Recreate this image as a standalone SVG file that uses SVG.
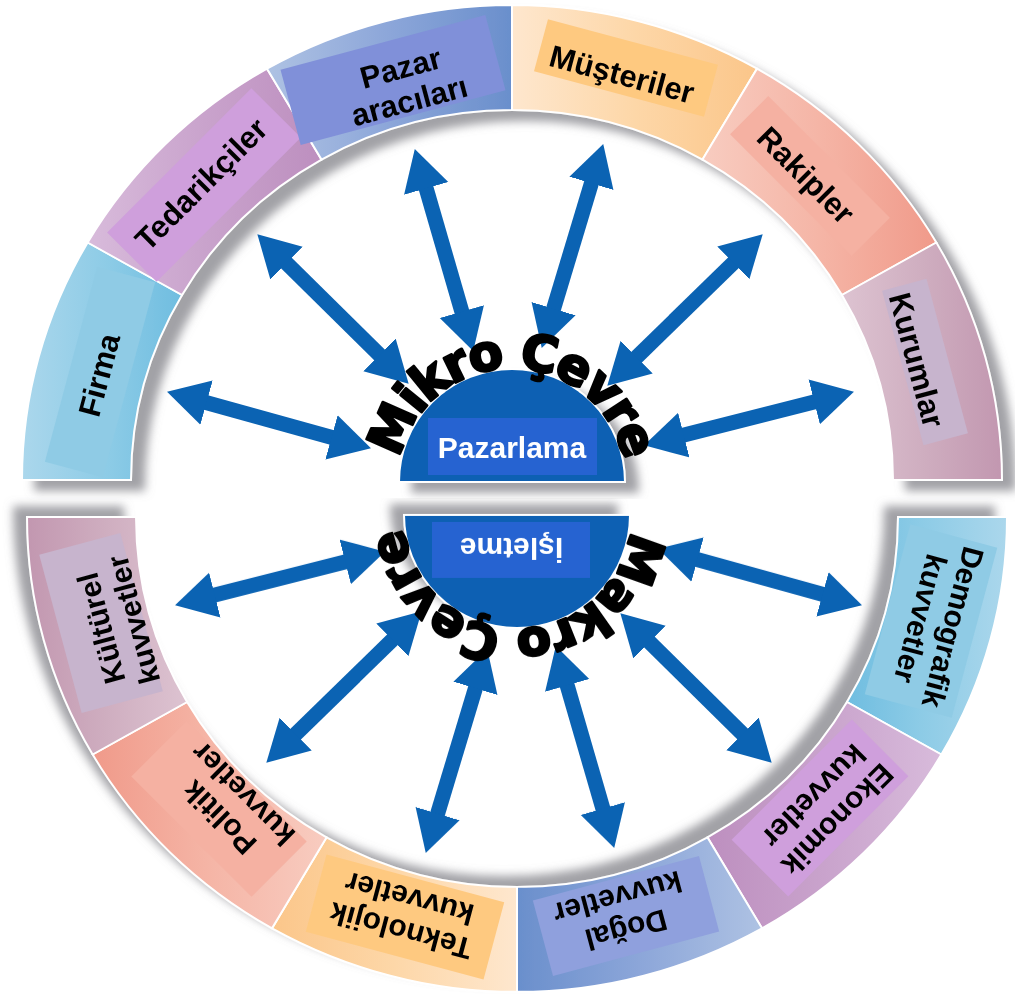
<svg xmlns="http://www.w3.org/2000/svg" xmlns:xlink="http://www.w3.org/1999/xlink" width="1015" height="994" viewBox="0 0 1015 994">
  <defs>
    <style>
      .seg { stroke: #ffffff; stroke-width: 2; }
      .lbl { font-family: "Liberation Sans", Arial, sans-serif; font-weight: bold; font-size: 31px; fill: #000000; text-anchor: middle; }
      .lbl2 { font-family: "Liberation Sans", Arial, sans-serif; font-weight: bold; font-size: 30px; fill: #000000; text-anchor: middle; }
      .core-txt { font-family: "Liberation Sans", Arial, sans-serif; font-weight: bold; font-size: 30px; fill: #ffffff; text-anchor: middle; }
      .arc-txt { font-family: "DejaVu Sans", "Liberation Sans", sans-serif; font-weight: bold; font-size: 50px; letter-spacing: -2.5px; fill: #000000; stroke: #000000; stroke-width: 2.6; stroke-linejoin: round; }
      .arw { stroke: #0b63b3; stroke-width: 15; fill: none; marker-start: url(#head); marker-end: url(#head); }
      .core { fill: #0a60b3; stroke: #ffffff; stroke-width: 2; }
      .core-box { fill: #2564d1; }
    </style>

    <!-- soft drop shadow used under the ring and the core disc -->
    <filter id="drop" x="-10%" y="-10%" width="125%" height="125%">
      <feGaussianBlur in="SourceAlpha" stdDeviation="5"/>
      <feOffset dx="13" dy="10" result="blur"/>
      <feFlood flood-color="#8a8a90" flood-opacity="0.8"/>
      <feComposite in2="blur" operator="in"/>
      <feMerge>
        <feMergeNode/>
        <feMergeNode in="SourceGraphic"/>
      </feMerge>
    </filter>

    <marker id="head" markerUnits="userSpaceOnUse" markerWidth="42" markerHeight="48" viewBox="0 0 42 48" refX="10" refY="24" orient="auto-start-reverse">
      <path d="M0,1 L41,24 L0,47 Z" fill="#0b63b3"/>
    </marker>

    <!-- segment fills -->
    <linearGradient id="g-blue" x1="0" y1="0" x2="1" y2="0">
      <stop offset="0" stop-color="#abd7ec"/>
      <stop offset="0.55" stop-color="#8ccbe6"/>
      <stop offset="1" stop-color="#6fbde0"/>
    </linearGradient>
    <linearGradient id="g-lilac" x1="0" y1="0" x2="1" y2="0">
      <stop offset="0" stop-color="#d8bbdb"/>
      <stop offset="0.5" stop-color="#c9a3cc"/>
      <stop offset="1" stop-color="#bd8fbf"/>
    </linearGradient>
    <linearGradient id="g-indigo" x1="0" y1="0" x2="1" y2="0">
      <stop offset="0" stop-color="#aec2e3"/>
      <stop offset="0.5" stop-color="#8ca6d9"/>
      <stop offset="1" stop-color="#6a8fcc"/>
    </linearGradient>
    <linearGradient id="g-peach" x1="0" y1="0" x2="1" y2="0">
      <stop offset="0" stop-color="#fee7ce"/>
      <stop offset="0.5" stop-color="#fdd7a8"/>
      <stop offset="1" stop-color="#fbc68a"/>
    </linearGradient>
    <linearGradient id="g-salmon" x1="0" y1="0" x2="1" y2="0">
      <stop offset="0" stop-color="#f8ccc0"/>
      <stop offset="0.5" stop-color="#f5b5a6"/>
      <stop offset="1" stop-color="#f09a8a"/>
    </linearGradient>
    <linearGradient id="g-mauve" x1="0" y1="0" x2="1" y2="0">
      <stop offset="0" stop-color="#ddc3d1"/>
      <stop offset="0.5" stop-color="#cfaec0"/>
      <stop offset="1" stop-color="#c297b0"/>
    </linearGradient>

    <!-- baseline arc for the curved titles -->
    <path id="title-arc" d="M398,482 A114,114 0 0 1 626,482"/>
  </defs>

  <rect x="0" y="0" width="1015" height="994" fill="#ffffff"/>

  <!-- ===== upper half: micro environment ===== -->
  <g id="micro">
    <g id="micro-ring" filter="url(#drop)">
      <g id="firma">
        <path class="seg" fill="url(#g-blue)" d="M22,480 A490,475 0 0 1 87.65,242.5 L182.05,295 A381,370 0 0 0 131,480 Z"/>
        <rect x="-101" y="-30" width="202" height="60" fill="#8fcbe5" transform="translate(100,372) rotate(-75)"/>
        <text class="lbl" transform="translate(99,375) rotate(-75)" y="11">Firma</text>
      </g>
      <g id="tedarikciler">
        <path class="seg" fill="url(#g-lilac)" d="M87.65,242.5 A490,475 0 0 1 267,68.64 L321.5,159.58 A381,370 0 0 0 182.05,295 Z"/>
        <rect x="-102" y="-35" width="204" height="70" fill="#cf9fdc" transform="translate(204,185) rotate(-45)"/>
        <text class="lbl" transform="translate(201,184) rotate(-45)" y="11">Tedarikçiler</text>
      </g>
      <g id="pazar-aracilari">
        <path class="seg" fill="url(#g-indigo)" d="M267,68.64 A490,475 0 0 1 512,5 L512,110 A381,370 0 0 0 321.5,159.58 Z"/>
        <rect x="-106" y="-39" width="212" height="78" fill="#8090d9" transform="translate(393,80) rotate(-15)"/>
        <text class="lbl" transform="translate(405,84) rotate(-15)"><tspan x="0" y="-6">Pazar</tspan><tspan x="0" y="28">aracıları</tspan></text>
      </g>
      <g id="musteriler">
        <path class="seg" fill="url(#g-peach)" d="M512,5 A490,475 0 0 1 757,68.64 L702.5,159.58 A381,370 0 0 0 512,110 Z"/>
        <rect x="-88" y="-27" width="176" height="54" fill="#fec980" transform="translate(626,68) rotate(15)"/>
        <text class="lbl" transform="translate(622,74) rotate(15)" y="11">Müşteriler</text>
      </g>
      <g id="rakipler">
        <path class="seg" fill="url(#g-salmon)" d="M757,68.64 A490,475 0 0 1 936.35,242.5 L841.95,295 A381,370 0 0 0 702.5,159.58 Z"/>
        <rect x="-86" y="-27" width="172" height="54" fill="#f5b1a2" transform="translate(810,176) rotate(45)"/>
        <text class="lbl" transform="translate(806,175) rotate(45)" y="11">Rakipler</text>
      </g>
      <g id="kurumlar">
        <path class="seg" fill="url(#g-mauve)" d="M936.35,242.5 A490,475 0 0 1 1002,480 L893,480 A381,370 0 0 0 841.95,295 Z"/>
        <rect x="-80" y="-23" width="160" height="46" fill="#c7b4cd" transform="translate(925,362) rotate(75)"/>
        <text class="lbl" transform="translate(917,360) rotate(75)" y="11">Kurumlar</text>
      </g>
    </g>

    <g id="micro-connectors">
      <line class="arw" x1="196.9" y1="400.0" x2="341.1" y2="440.0"/>
      <line class="arw" x1="279.4" y1="256.1" x2="386.6" y2="361.9"/>
      <line class="arw" x1="423.4" y1="178.8" x2="464.6" y2="321.2"/>
      <line class="arw" x1="594.3" y1="173.7" x2="550.7" y2="318.3"/>
      <line class="arw" x1="740.5" y1="255.9" x2="629.5" y2="364.1"/>
      <line class="arw" x1="823.9" y1="399.4" x2="674.1" y2="437.6"/>
    </g>

    <g id="pazarlama" filter="url(#drop)">
      <path class="core" d="M399,482 A113,113 0 0 1 625,482 Z"/>
      <rect class="core-box" x="428" y="418" width="169" height="57"/>
      <text class="core-txt" x="512" y="458">Pazarlama</text>
    </g>

    <text id="micro-title" class="arc-txt"><textPath xlink:href="#title-arc" href="#title-arc" startOffset="50%" text-anchor="middle">Mikro Çevre</textPath></text>
  </g>

  <!-- ===== lower half: macro environment (same layout turned half a turn) ===== -->
  <g id="macro" transform="rotate(180 514.5 498.5)">
    <g id="macro-ring" filter="url(#drop)">
      <g id="demografik">
        <path class="seg" fill="url(#g-blue)" d="M22,480 A490,475 0 0 1 87.65,242.5 L182.05,295 A381,370 0 0 0 131,480 Z"/>
        <rect x="-88" y="-45" width="176" height="90" fill="#8fcbe5" transform="translate(98,376) rotate(-75)"/>
        <text class="lbl2" transform="translate(92,374) rotate(-75)"><tspan x="0" y="-6">Demografik</tspan><tspan x="0" y="27.5">kuvvetler</tspan></text>
      </g>
      <g id="ekonomik">
        <path class="seg" fill="url(#g-lilac)" d="M87.65,242.5 A490,475 0 0 1 267,68.64 L321.5,159.58 A381,370 0 0 0 182.05,295 Z"/>
        <rect x="-85" y="-40" width="170" height="80" fill="#cf9fdc" transform="translate(209,189) rotate(-45)"/>
        <text class="lbl2" transform="translate(203,189) rotate(-45)"><tspan x="0" y="-6">Ekonomik</tspan><tspan x="0" y="27.5">kuvvetler</tspan></text>
      </g>
      <g id="dogal">
        <path class="seg" fill="url(#g-indigo)" d="M267,68.64 A490,475 0 0 1 512,5 L512,110 A381,370 0 0 0 321.5,159.58 Z"/>
        <rect x="-86" y="-39" width="172" height="78" fill="#8fa0dd" transform="translate(403,81) rotate(-15)"/>
        <text class="lbl2" transform="translate(407,83) rotate(-15)"><tspan x="0" y="-6">Doğal</tspan><tspan x="0" y="27.5">kuvvetler</tspan></text>
      </g>
      <g id="teknolojik">
        <path class="seg" fill="url(#g-peach)" d="M512,5 A490,475 0 0 1 757,68.64 L702.5,159.58 A381,370 0 0 0 512,110 Z"/>
        <rect x="-92" y="-40" width="184" height="80" fill="#fec980" transform="translate(624,80) rotate(15)"/>
        <text class="lbl2" transform="translate(624,82) rotate(15)"><tspan x="0" y="-6">Teknolojik</tspan><tspan x="0" y="27.5">kuvvetler</tspan></text>
      </g>
      <g id="politik">
        <path class="seg" fill="url(#g-salmon)" d="M757,68.64 A490,475 0 0 1 936.35,242.5 L841.95,295 A381,370 0 0 0 702.5,159.58 Z"/>
        <rect x="-85" y="-39" width="170" height="78" fill="#f5b1a2" transform="translate(810,188) rotate(45)"/>
        <text class="lbl2" transform="translate(798,191) rotate(45)"><tspan x="0" y="-6">Politik</tspan><tspan x="0" y="27.5">kuvvetler</tspan></text>
      </g>
      <g id="kulturel">
        <path class="seg" fill="url(#g-mauve)" d="M936.35,242.5 A490,475 0 0 1 1002,480 L893,480 A381,370 0 0 0 841.95,295 Z"/>
        <rect x="-82" y="-42" width="164" height="84" fill="#c7b4cd" transform="translate(928,374) rotate(75)"/>
        <text class="lbl2" transform="translate(912,373) rotate(75)"><tspan x="0" y="-6">Kültürel</tspan><tspan x="0" y="27.5">kuvvetler</tspan></text>
      </g>
    </g>

    <g id="macro-connectors">
      <line class="arw" x1="196.9" y1="400.0" x2="341.1" y2="440.0"/>
      <line class="arw" x1="279.4" y1="256.1" x2="386.6" y2="361.9"/>
      <line class="arw" x1="423.4" y1="178.8" x2="464.6" y2="321.2"/>
      <line class="arw" x1="594.3" y1="173.7" x2="550.7" y2="318.3"/>
      <line class="arw" x1="740.5" y1="255.9" x2="629.5" y2="364.1"/>
      <line class="arw" x1="823.9" y1="399.4" x2="674.1" y2="437.6"/>
    </g>

    <g id="isletme" filter="url(#drop)">
      <path class="core" d="M399,482 A113,113 0 0 1 625,482 Z"/>
      <rect class="core-box" x="439" y="419" width="158" height="56"/>
      <text class="core-txt" x="517.5" y="459">İşletme</text>
    </g>

    <text id="macro-title" class="arc-txt"><textPath xlink:href="#title-arc" href="#title-arc" startOffset="50%" text-anchor="middle">Makro Çevre</textPath></text>
  </g>
</svg>
